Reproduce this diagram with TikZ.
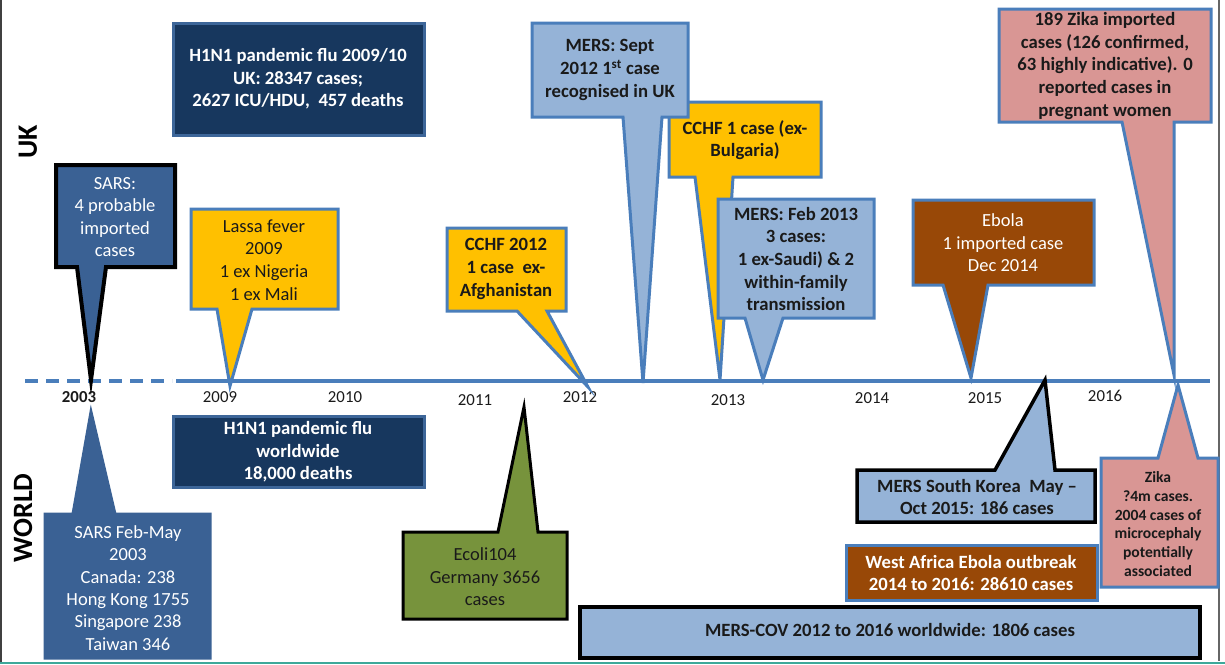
\documentclass[tikz,border=0pt]{standalone}
\usepackage{fontspec}
\setmainfont{Carlito}
\definecolor{csteel}{HTML}{4A7EBB}
\definecolor{cnavy}{HTML}{17375E}
\definecolor{cnavyline}{HTML}{3D6699}
\definecolor{csars}{HTML}{3A6194}
\definecolor{cgold}{HTML}{FFC000}
\definecolor{clblue}{HTML}{95B3D7}
\definecolor{czika}{HTML}{D99694}
\definecolor{cbrown}{HTML}{984807}
\definecolor{colive}{HTML}{77933C}
\definecolor{cteal}{HTML}{3DA89A}
\definecolor{ctext}{HTML}{1A1A1A}
\newcommand{\fbig}{\fontsize{18.7}{22.6}\selectfont\bfseries}
\newcommand{\freg}{\fontsize{18.5}{22.6}\selectfont}
\newcommand{\fyear}{\fontsize{16.8}{20}\selectfont}
\tikzset{
  cbox/.style={line width=3pt, line join=miter},
  txt/.style={align=center, inner sep=0pt, text=ctext},
  wtxt/.style={align=center, inner sep=0pt, text=white},
  year/.style={inner sep=0pt, font=\fyear, text=ctext},
  side/.style={inner sep=0pt, rotate=90, font=\fontsize{28}{30}\selectfont\bfseries, text=black}
}
\begin{document}
\begin{tikzpicture}[x=1pt,y=-1pt]
\useasboundingbox (0,0) rectangle (1225,664);
\fill[white] (0,0) rectangle (1225,664);
% frame
\draw[line width=2.5pt, black!75] (1,0) -- (1,664);
\draw[line width=1.5pt, black!60] (1219,0) -- (1219,661);
\draw[line width=2.5pt, cteal] (0,663) -- (1225,663);

% side labels
\node[side] (uk) at (28,142) {UK};
\node[side] (world) at (23,518) {WORLD};

% timeline
\coordinate (tl0) at (25,381);
\coordinate (tl1) at (172,381);
\coordinate (tl2) at (176,381);
\coordinate (tl3) at (1210,381);
\draw[line width=4pt, csteel, dash pattern=on 13pt off 8pt] (tl0) -- (tl1);
\draw[line width=4pt, csteel] (tl2) -- (tl3);

% years
\node[year, font=\fyear\bfseries] (y2003) at (79,397) {2003};
\node[year] (y2009) at (220,397) {2009};
\node[year] (y2010) at (345,397) {2010};
\node[year] (y2011) at (475,400) {2011};
\node[year] (y2012) at (580,397) {2012};
\node[year] (y2013) at (728,400) {2013};
\node[year] (y2014) at (872,398) {2014};
\node[year] (y2015) at (985,398) {2015};
\node[year] (y2016) at (1105,396) {2016};

% ---------------- UK ----------------
% H1N1 UK
\draw[cbox, fill=cnavy, draw=cnavyline] (173,23) rectangle (424,135);
\node[wtxt, font=\fbig] (h1n1uk) at (298,79) {H1N1 pandemic flu 2009/10\\UK: 28347 cases;\\2627 ICU/HDU,~~457 deaths};

% SARS UK
\draw[cbox, fill=csars, draw=black, line width=4pt] (56,165) -| (175,267) -- (106,267) -- (91,380) -- (77,267) -- (56,267) -- cycle;
\node[wtxt, font=\freg] (sarsuk) at (115,217) {SARS:\\4 probable\\imported\\cases};

% Lassa
\draw[cbox, fill=cgold, draw=csteel] (191,209) -| (338,309) -- (252,309) -- (230,386) -- (217,309) -- (191,309) -- cycle;
\node[txt, font=\freg] (lassa) at (264,260) {Lassa fever\\2009\\1 ex Nigeria\\1 ex Mali};

% CCHF 2012
\draw[cbox, fill=cgold, draw=csteel] (447,228) -| (566,311) -- (547,311) -- (588,387) -- (517,311) -- (447,311) -- cycle;
\node[txt, font=\fbig] (cchf12) at (506,269) {CCHF 2012\\1 case~~ex-\\Afghanistan};

% CCHF 1 case
\draw[cbox, fill=cgold, draw=csteel] (669,102) -| (821,177) -- (733,177) -- (720,380) -- (695,177) -- (669,177) -- cycle;
\node[txt, font=\fbig] (cchf13) at (745,140) {CCHF 1 case (ex-\\Bulgaria)};

% MERS Feb 2013
\draw[cbox, fill=clblue, draw=csteel] (718,199) -| (874,318) -- (783,318) -- (763,380) -- (745,318) -- (718,318) -- cycle;
\node[txt, font=\fbig] (mersfeb) at (796,259) {MERS: Feb 2013\\3 cases:\\1 ex-Saudi) \& 2\\within-family\\transmission};

% MERS Sept 2012
\draw[cbox, fill=clblue, draw=csteel] (532,23) -| (688,117) -- (662,117) -- (643,383) -- (623,117) -- (532,117) -- cycle;
\node[txt, font=\fbig] (merssep) at (610,70) {MERS: Sept\\2012 1\textsuperscript{st} case\\recognised in UK};

% Ebola UK
\draw[cbox, fill=cbrown, draw=csteel] (913,200) -| (1094,285) -- (988,285) -- (971,378) -- (943,285) -- (913,285) -- cycle;
\node[wtxt, font=\freg] (ebolauk) at (1003,243) {Ebola\\1 imported case\\Dec 2014};

% Zika UK
\draw[cbox, fill=czika, draw=csteel] (999,9) -| (1211,122) -- (1174,122) -- (1174,375) -- (1122,122) -- (999,122) -- cycle;
\node[txt, font=\fbig] (zikauk) at (1105,66) {189 Zika imported\\cases (126 confirmed,\\63 highly indicative). 0\\reported cases in\\pregnant women};

% ---------------- WORLD ----------------
% SARS world
\draw[cbox, fill=csars, draw=csars] (45,514) -- (73,514) -- (91,412) -- (115,514) -- (210,514) |- (45,658) -- cycle;
\node[wtxt, font=\fontsize{18.5}{22.3}\selectfont] (sarsw) at (128,588) {SARS Feb-May\\2003\\Canada: 238\\Hong Kong 1755\\Singapore 238\\Taiwan 346};

% H1N1 world
\draw[cbox, fill=cnavy, draw=cnavyline] (173,416) rectangle (424,487);
\node[wtxt, font=\fbig] (h1n1w) at (298,452) {H1N1 pandemic flu\\worldwide\\18,000 deaths};

% Ecoli
\draw[cbox, fill=colive, draw=black] (403,532) -- (498,532) -- (524,407) -- (538,532) -- (567,532) |- (403,619) -- cycle;
\node[txt, font=\freg] (ecoli) at (485,577) {Ecoli104\\Germany 3656\\cases};

% MERS South Korea
\draw[cbox, fill=clblue, draw=black, line width=3.5pt] (857,470) -- (995,470) -- (1045,380) -- (1055,470) -- (1095,470) |- (857,522) -- cycle;
\node[txt, font=\fbig] (merssk) at (977,497) {MERS South Korea~~May --\\Oct 2015: 186 cases};

% West Africa Ebola
\draw[cbox, fill=cbrown, draw=csteel] (846,545) rectangle (1097,600);
\node[wtxt, font=\fbig] (ebolaw) at (971,573) {West Africa Ebola outbreak\\2014 to 2016: 28610 cases};

% Zika world
\draw[cbox, fill=czika, draw=csteel] (1101,458) -- (1158,458) -- (1178,385) -- (1198,458) -- (1218,458) |- (1101,587) -- cycle;
\node[txt, font=\fontsize{15.6}{18.8}\selectfont\bfseries] (zikaw) at (1158,524) {Zika\\?4m cases.\\2004 cases of\\microcephaly\\potentially\\associated};

% MERS-COV
\draw[cbox, fill=clblue, draw=black, line width=3.5pt] (580,607) rectangle (1200,658);
\node[txt, font=\fbig] (merscov) at (890,630) {MERS-COV 2012 to 2016 worldwide: 1806 cases};
\end{tikzpicture}
\end{document}
